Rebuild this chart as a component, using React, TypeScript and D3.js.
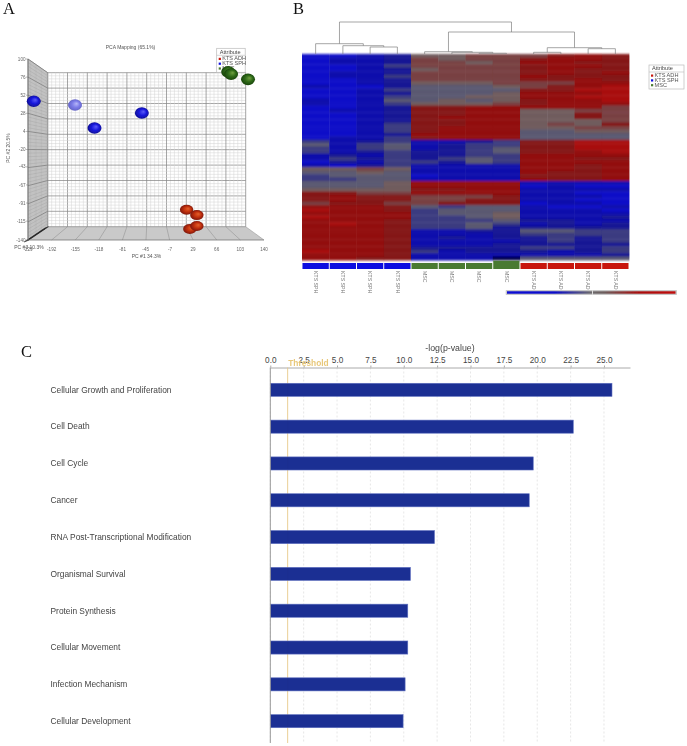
import { useEffect, useRef } from "react";
import * as d3 from "d3";

// Panel A: PCA
const pcXTicks = [-229, -192, -155, -118, -81, -45, -7, 29, 66, 103, 140];
const pcYTicks = [100, 76, 52, 28, 4, -20, -43, -67, -91, -115, -140];
const pcaGroups = ["KTS ADH", "KTS SPH", "MSC"];
const pcaSamples: [string, number, number][] = [
  ["blue", -220, 44],
  ["pale", -155.5, 39],
  ["blue", -125, 8.5],
  ["blue", -51, 28.4],
  ["green", 84, 83],
  ["green", 88.5, 80],
  ["green", 115, 73],
  ["red", 19, -100],
  ["red", 35, -107],
  ["red", 24, -125.5],
  ["red", 35, -121.5],
];

// Panel B: heatmap, one string per row, one digit per column (0 blue .. 4-5 grey .. 9 red, n navy)
const heatColumns = [
  "KTS SPH", "KTS SPH", "KTS SPH", "KTS SPH",
  "MSC", "MSC", "MSC", "MSC",
  "KTS ADH", "KTS ADH", "KTS ADH", "KTS ADH",
];
const heatRows = [
  "001255666787",
  "011265667887",
  "011266568877",
  "001366667887",
  "001256667877",
  "011266667878",
  "011366668777",
  "001266667787",
  "001255566688",
  "100244456789",
  "001344447799",
  "001244458889",
  "001344558899",
  "101445457889",
  "101355567888",
  "001277888886",
  "011277885566",
  "001277885576",
  "001278885576",
  "001277885556",
  "001377885657",
  "001378885566",
  "001378884455",
  "001288884444",
  "011378884444",
  "312311237799",
  "413412337799",
  "313412347799",
  "312322347789",
  "121322338888",
  "132323438877",
  "021332438888",
  "102311118878",
  "556511118878",
  "445411118778",
  "344401117778",
  "334411118778",
  "444588881111",
  "444588880100",
  "555577881111",
  "776688881100",
  "787766671110",
  "787766771100",
  "677667770110",
  "888743441001",
  "988734441110",
  "888834451111",
  "988833451112",
  "888733342211",
  "898733431212",
  "888733422222",
  "888711224433",
  "888711123333",
  "888712122323",
  "888711112323",
  "888711122222",
  "888722223323",
  "988731222123",
  "888711111112",
  "8877111n4444",
];
type Merge = { h: number; kids: (Merge | number)[] };
const dendrogram: Merge = {
  h: 32,
  kids: [
    { h: 10.3, kids: [0, { h: 8.3, kids: [1, { h: 7, kids: [2, 3] }] }] },
    {
      h: 22,
      kids: [
        { h: 2.3, kids: [4, { h: 1.7, kids: [5, { h: 0.7, kids: [6, 7] }] }] },
        { h: 6.3, kids: [{ h: 1.7, kids: [8, 9] }, { h: 5.3, kids: [10, 11] }] },
      ],
    },
  ],
};

// Panel C: functions
const functions = [
  "Cellular Growth and Proliferation",
  "Cell Death",
  "Cell Cycle",
  "Cancer",
  "RNA Post-Transcriptional Modification",
  "Organismal Survival",
  "Protein Synthesis",
  "Cellular Movement",
  "Infection Mechanism",
  "Cellular Development",
];
const logP = [25.6, 22.7, 19.7, 19.4, 12.3, 10.5, 10.3, 10.3, 10.1, 9.95];
const threshold = 1.3;
const logPTicks = [0, 2.5, 5, 7.5, 10, 12.5, 15, 17.5, 20, 22.5, 25];

const sans = "'Liberation Sans', Arial, sans-serif";
const groupColor: Record<string, string> = { "KTS ADH": "#c81408", "KTS SPH": "#0808e0", MSC: "#4a7a30" };

function drawAttributeBox(g: any, x: number, y: number, w: number) {
  g.append("rect").attr("x", x).attr("y", y).attr("width", w).attr("height", 24)
    .attr("fill", "#fff").attr("stroke", "#bbb").attr("stroke-width", 0.7);
  g.append("line").attr("x1", x).attr("x2", x + w).attr("y1", y + 7).attr("y2", y + 7).attr("stroke", "#bbb").attr("stroke-width", 0.6);
  g.append("text").attr("x", x + 3).attr("y", y + 5.2).text("Attribute")
    .style("font-size", "5.6px").style("font-family", sans).attr("fill", "#444");
  pcaGroups.forEach((name, i) => {
    g.append("rect").attr("x", x + 2).attr("y", y + 9.5 + i * 4.8).attr("width", 2.2).attr("height", 2.2).attr("fill", groupColor[name]);
    g.append("text").attr("x", x + 5.5).attr("y", y + 12 + i * 4.8).text(name)
      .style("font-size", "5.6px").style("font-family", sans).attr("fill", "#555");
  });
}

function drawPca(g: any, defs: any) {
  const xFront = d3.scaleLinear().domain([-229, 140]).range([28, 264]);
  const xBack = d3.scaleLinear().domain([-229, 140]).range([47.7, 245.7]);
  const yFront = d3.scaleLinear().domain([100, -140]).range([59, 240]);
  const yBack = d3.scaleLinear().domain([100, -140]).range([72.7, 226.7]);
  const [x0, x1] = xBack.domain();
  const [yTop, yBot] = yBack.domain();

  // walls
  g.append("path").attr("fill", "#d6d6d6").attr("stroke", "#999").attr("stroke-width", 0.5)
    .attr("d", `M${xFront(x0)},${yFront(yTop)}L${xBack(x0)},${yBack(yTop)}L${xBack(x0)},${yBack(yBot)}L${xFront(x0)},${yFront(yBot)}Z`);
  g.append("path").attr("fill", "#c9c9c9")
    .attr("d", `M${xBack(x0)},${yBack(yBot)}L${xBack(x1)},${yBack(yBot)}L${xFront(x1)},${yFront(yBot)}L${xFront(x0)},${yFront(yBot)}Z`);

  const xStep = (x1 - x0) / 10;
  const yStep = (yTop - yBot) / 10;
  d3.range(0, 51).forEach((i) => {
    const major = i % 5 === 0;
    const xv = x0 + (i * xStep) / 5;
    const yv = yTop - (i * yStep) / 5;
    const stroke = major ? "#888" : "#d2d2d2";
    const w = major ? 0.75 : 0.5;
    g.append("line").attr("x1", xBack(xv)).attr("x2", xBack(xv)).attr("y1", yBack(yTop)).attr("y2", yBack(yBot)).attr("stroke", stroke).attr("stroke-width", w);
    g.append("line").attr("x1", xBack(x0)).attr("x2", xBack(x1)).attr("y1", yBack(yv)).attr("y2", yBack(yv)).attr("stroke", stroke).attr("stroke-width", w);
    // side wall rows
    g.append("line").attr("x1", xFront(x0)).attr("x2", xBack(x0)).attr("y1", yFront(yv)).attr("y2", yBack(yv))
      .attr("stroke", major ? "#666" : "#aaa").attr("stroke-width", major ? 0.7 : 0.4);
    if (major) {
      g.append("line").attr("x1", xFront(xv)).attr("x2", xBack(xv)).attr("y1", yFront(yBot)).attr("y2", yBack(yBot)).attr("stroke", "#8a8a8a").attr("stroke-width", 0.5);
    }
  });
  // side wall columns + depth ticks
  d3.range(0, 1.01, 0.0625).forEach((t) => {
    const wx = xFront(x0) + t * (xBack(x0) - xFront(x0));
    const yA = yFront(yTop) + t * (yBack(yTop) - yFront(yTop));
    const yB = yFront(yBot) + t * (yBack(yBot) - yFront(yBot));
    g.append("line").attr("x1", wx).attr("x2", wx).attr("y1", yA).attr("y2", yB).attr("stroke", "#9a9a9a").attr("stroke-width", 0.45);
    g.append("line").attr("x1", wx - 4).attr("x2", wx + 1).attr("y1", yB + 2).attr("y2", yB).attr("stroke", "#222").attr("stroke-width", 0.7);
  });
  g.append("line").attr("x1", xFront(x0)).attr("x2", xFront(x1)).attr("y1", yFront(yBot)).attr("y2", yFront(yBot)).attr("stroke", "#777").attr("stroke-width", 0.8);
  g.append("line").attr("x1", xFront(x0)).attr("x2", xFront(x0)).attr("y1", yFront(yTop)).attr("y2", yFront(yBot)).attr("stroke", "#666").attr("stroke-width", 0.8);

  // tick labels
  pcYTicks.forEach((v) => {
    g.append("text").attr("x", 25.5).attr("y", yFront(v) + 1.6).attr("text-anchor", "end").text(v)
      .style("font-size", "4.6px").style("font-family", sans).attr("fill", "#666");
    g.append("line").attr("x1", 26).attr("x2", 28).attr("y1", yFront(v)).attr("y2", yFront(v)).attr("stroke", "#777").attr("stroke-width", 0.5);
  });
  pcXTicks.forEach((v) => {
    g.append("text").attr("x", xFront(v)).attr("y", 250.5).attr("text-anchor", "middle").text(v)
      .style("font-size", "4.6px").style("font-family", sans).attr("fill", "#666");
  });
  const title = (x: number, y: number, s: string, rotate = false) =>
    g.append("text").attr("text-anchor", "middle").attr("transform", `translate(${x},${y})${rotate ? " rotate(-90)" : ""}`)
      .text(s).style("font-size", "5px").style("font-family", sans).attr("fill", "#555");
  title(130.5, 49, "PCA Mapping (65.1%)");
  title(146.5, 257.5, "PC #1 34.3%");
  title(9.5, 148, "PC #2 20.5%", true);
  title(29, 249, "PC #3 10.3%");

  drawAttributeBox(g, 216.7, 48.3, 28.5);

  // spheres
  const shades: Record<string, string[]> = {
    blue: ["#5a5af8", "#1818dc", "#0c0c88"],
    pale: ["#b8b8f8", "#7c7ce8", "#6060c0"],
    green: ["#6fa040", "#2f6a18", "#143e0a"],
    red: ["#e4602c", "#c0300c", "#701206"],
  };
  Object.entries(shades).forEach(([k, c]) => {
    const grad = defs.append("radialGradient").attr("id", `ball-${k}`).attr("cx", "50%").attr("cy", "50%").attr("r", "55%").attr("fx", "62%").attr("fy", "38%");
    grad.append("stop").attr("offset", "0%").attr("stop-color", c[0]);
    grad.append("stop").attr("offset", "50%").attr("stop-color", c[1]);
    grad.append("stop").attr("offset", "100%").attr("stop-color", c[2]);
  });
  g.selectAll(".ball").data(pcaSamples).enter().append("ellipse").attr("class", "ball")
    .attr("cx", (d: any) => xFront(d[1])).attr("cy", (d: any) => yFront(d[2]))
    .attr("rx", (d: any) => (d[0] === "red" ? 6.7 : 7)).attr("ry", (d: any) => (d[0] === "red" ? 5 : 5.8))
    .attr("fill", (d: any) => `url(#ball-${d[0]})`);
}

function drawHeatmap(cellLayer: any, g: any, defs: any) {
  const x = d3.scaleBand<number>().domain(d3.range(heatColumns.length)).range([302, 629]);
  const y = d3.scaleBand<number>().domain(d3.range(heatRows.length)).range([54, 260]);
  const color = d3.scaleLinear<string>()
    .domain([-1, 0, 1, 2, 3, 4.5, 6, 7, 8, 9])
    .range(["#000048", "#0808c8", "#0c0cac", "#141494", "#3a3a80", "#6a686a", "#784042", "#841818", "#920e0e", "#a80a0a"]);

  const cells = heatRows.flatMap((row, r) =>
    row.split("").map((ch, c) => ({ r, c, v: ch === "n" ? -1 : +ch }))
  );
  cellLayer.selectAll(".cell").data(cells).enter().append("rect").attr("class", "cell")
    .attr("x", (d: any) => x(d.c)).attr("y", (d: any) => y(d.r))
    .attr("width", x.bandwidth() + 0.4).attr("height", y.bandwidth() + 0.4)
    .attr("fill", (d: any) => color(d.v));

  // dendrogram from merge heights
  const h = d3.scaleLinear().domain([0, 32]).range([54, 22]);
  const walk = (n: Merge | number): number => {
    if (typeof n === "number") return x(n)! + x.bandwidth() / 2;
    const xs = n.kids.map((k) => {
      const kx = walk(k);
      const kh = typeof k === "number" ? 0 : k.h;
      g.append("line").attr("x1", kx).attr("x2", kx).attr("y1", h(n.h)).attr("y2", h(kh)).attr("stroke", "#808080").attr("stroke-width", 0.7);
      return kx;
    });
    g.append("line").attr("x1", xs[0]).attr("x2", xs[1]).attr("y1", h(n.h)).attr("y2", h(n.h)).attr("stroke", "#808080").attr("stroke-width", 0.7);
    return (xs[0] + xs[1]) / 2;
  };
  walk(dendrogram);

  // column annotation
  heatColumns.forEach((name, i) => {
    const raised = i === 7 ? 2.3 : 0;
    g.append("rect").attr("x", x(i)! + 0.5).attr("y", 263 - raised).attr("width", x.bandwidth() - 1).attr("height", 6 + raised).attr("fill", groupColor[name]);
    g.append("text").attr("transform", `translate(${x(i)! + x.bandwidth() / 2 - 1.7},271) rotate(90)`).text(name)
      .style("font-size", "5.2px").style("font-family", sans).attr("fill", "#777");
  });

  drawAttributeBox(g, 649, 65, 35);

  // colour key
  const grad = defs.append("linearGradient").attr("id", "heat-key");
  [[0, "#0808d4"], [0.28, "#0a0ac8"], [0.5, "#6c6a6c"], [0.58, "#6c5c5c"], [0.78, "#a81010"], [1, "#c00808"]].forEach(([o, c]) => {
    grad.append("stop").attr("offset", o as number).attr("stop-color", c as string);
  });
  g.append("rect").attr("x", 505.7).attr("y", 290).attr("width", 171.3).attr("height", 5).attr("fill", "#c8c8c8").attr("rx", 0.8);
  g.append("rect").attr("x", 507).attr("y", 291.3).attr("width", 168.5).attr("height", 2.4).attr("fill", "url(#heat-key)");
  g.append("rect").attr("x", 592).attr("y", 290).attr("width", 1).attr("height", 5).attr("fill", "#ddd");
}

function drawBars(g: any) {
  const x = d3.scaleLinear().domain([0, 26.95]).range([270.3, 630]);
  const y = d3.scaleBand().domain(functions).range([371.5, 739.5]).paddingInner(0.644).paddingOuter(0.32);
  const top = 367.5;
  const bottom = 743;

  logPTicks.forEach((t) => {
    g.append("line").attr("x1", x(t)).attr("x2", x(t)).attr("y1", top).attr("y2", bottom)
      .attr("stroke", "#dcdcdc").attr("stroke-width", 0.7).attr("stroke-dasharray", "2,2");
  });

  const axis = g.append("g").attr("transform", `translate(0,${top})`)
    .call(d3.axisTop(x).tickValues(logPTicks).tickFormat(d3.format(".1f")).tickSize(2).tickSizeOuter(0));
  axis.select(".domain").attr("stroke", "#aaa").attr("stroke-width", 1);
  axis.selectAll(".tick line").attr("stroke", "#aaa");
  axis.selectAll("text").attr("fill", "#444").attr("dy", 0).attr("y", -4.8)
    .style("font-size", "8.2px").style("font-family", sans);

  g.append("text").attr("x", 450).attr("y", 350.5).attr("text-anchor", "middle").text("-log(p-value)")
    .style("font-size", "8.8px").style("font-family", sans).attr("fill", "#444");

  g.append("line").attr("x1", x(threshold)).attr("x2", x(threshold)).attr("y1", top).attr("y2", bottom).attr("stroke", "#e8c98a").attr("stroke-width", 0.9);
  g.selectAll(".bar").data(logP).enter().append("rect").attr("class", "bar")
    .attr("x", x(0)).attr("y", (_: any, i: number) => y(functions[i]))
    .attr("width", (d: number) => x(d) - x(0)).attr("height", y.bandwidth())
    .attr("fill", "#14288f").attr("fill-opacity", 0.97).attr("stroke", "#5f70c0").attr("stroke-width", 0.6);
  g.append("line").attr("x1", x(0)).attr("x2", x(0)).attr("y1", top).attr("y2", bottom).attr("stroke", "#999").attr("stroke-width", 1);

  g.append("text").attr("x", x(threshold) + 0.6).attr("y", 365.5).text("Threshold")
    .style("font-size", "8.4px").style("font-weight", "bold").style("font-family", sans).attr("fill", "#e8c87a");

  g.selectAll(".fn").data(functions).enter().append("text").attr("class", "fn")
    .attr("x", 50.5).attr("y", (d: string) => y(d)! + y.bandwidth() / 2 + 2.8).text((d: string) => d)
    .style("font-size", "8.4px").style("font-family", sans).attr("fill", "#444");
}

export default function App() {
  const ref = useRef<SVGSVGElement>(null);

  useEffect(() => {
    const svg = d3.select(ref.current);
    svg.selectAll("*").remove();
    const defs = svg.append("defs");
    const soft = defs.append("filter").attr("id", "soft").attr("x", "-5%").attr("y", "-5%").attr("width", "110%").attr("height", "110%");
    soft.append("feGaussianBlur").attr("stdDeviation", 0.45);
    const softRows = defs.append("filter").attr("id", "soft-rows").attr("x", "-2%").attr("y", "-2%").attr("width", "104%").attr("height", "104%");
    softRows.append("feGaussianBlur").attr("stdDeviation", "0.5 0.8");

    const a = svg.append("g").attr("filter", "url(#soft)");
    const cellLayer = svg.append("g").attr("filter", "url(#soft-rows)");
    const b = svg.append("g").attr("filter", "url(#soft)");
    const c = svg.append("g");
    drawPca(a, defs);
    drawHeatmap(cellLayer, b, defs);
    drawBars(c);

    [["A", 3, 14], ["B", 293, 14], ["C", 21, 356.5]].forEach(([s, x, y]) => {
      svg.append("text").attr("x", x).attr("y", y).text(s as string)
        .style("font-size", "16.5px").style("font-family", "'Liberation Serif', serif").attr("fill", "#111");
    });
  }, []);

  return <svg ref={ref} width={687} height={746} style={{ position: "absolute", left: 0, top: 0, background: "#fff" }} />;
}
